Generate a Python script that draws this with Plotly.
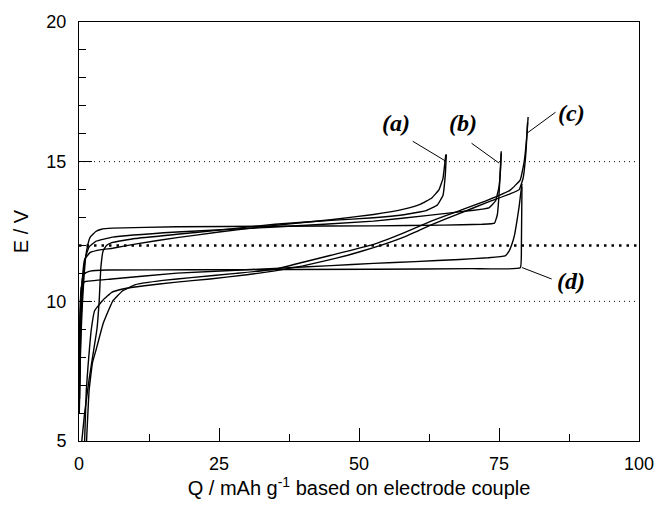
import plotly.graph_objects as go

# ---- data (Q / mAh g-1, E / V) ----
a1_q = [0.1, 0.3, 0.6, 1.0, 2.0, 4.0, 6.0, 10, 17.5, 25, 35, 45, 52.6, 58, 61, 63, 64.3, 65.0, 65.3, 65.5]
a1_e = [6.5, 9.2, 10.8, 11.5, 11.75, 11.85, 11.9, 12.05, 12.28, 12.48, 12.72, 12.92, 13.11, 13.3, 13.48, 13.7, 14.0, 14.4, 14.9, 15.25]

a2_q = [0.5, 1.0, 1.8, 2.5, 3.2, 3.6, 3.9, 4.3, 4.9, 5.85, 10, 17.5, 25, 35, 45, 52.6, 58, 62, 64, 65.0, 65.4, 65.6]
a2_e = [5.0, 6.0, 7.2, 8.1, 9.0, 10.0, 11.2, 11.8, 12.0, 12.1, 12.25, 12.4, 12.55, 12.76, 12.9, 12.99, 13.1, 13.25, 13.45, 13.8, 14.5, 15.26]

b1_q = [0.05, 0.3, 0.6, 0.9, 1.2, 1.6, 2.0, 3.0, 4.0, 6, 17.5, 35, 52.6, 65, 72, 74.2, 74.7, 75.0, 75.2, 75.4]
b1_e = [6.0, 8.5, 9.9, 10.9, 11.6, 12.05, 12.3, 12.5, 12.58, 12.62, 12.67, 12.69, 12.70, 12.73, 12.76, 12.8, 13.1, 13.8, 14.6, 15.37]

b2_q = [0.1, 0.4, 0.8, 1.2, 1.8, 3, 6, 17.5, 35, 52.6, 62, 70, 73.2, 74.4, 75.0, 75.3, 75.4]
b2_e = [7.0, 9.5, 11.0, 11.6, 11.95, 12.15, 12.3, 12.48, 12.66, 12.87, 13.07, 13.25, 13.35, 13.6, 14.1, 14.8, 15.3]

c1_q = [1.35, 1.8, 2.4, 3.1, 4.3, 6.0, 7.8, 10.1, 15, 20, 28, 35, 40, 45, 52.6, 58, 63, 68, 73, 77, 78.8, 79.5, 80.0, 80.2]
c1_e = [5.0, 6.8, 7.8, 8.3, 9.2, 10.0, 10.38, 10.6, 10.75, 10.85, 11.0, 11.15, 11.4, 11.65, 12.04, 12.45, 12.88, 13.25, 13.62, 13.98, 14.35, 15.0, 16.0, 16.6]

c2_q = [1.0, 1.3, 1.6, 2.2, 2.8, 4.3, 5.85, 8, 11.7, 17, 23.4, 30, 35, 40, 43.9, 48, 52.6, 58, 63, 68, 73, 77, 78.6, 79.3, 79.8, 80.1]
c2_e = [5.0, 6.8, 7.65, 9.0, 9.67, 10.05, 10.32, 10.45, 10.56, 10.68, 10.80, 10.95, 11.09, 11.27, 11.45, 11.65, 11.92, 12.3, 12.75, 13.15, 13.55, 13.85, 14.0, 14.4, 15.3, 16.4]

d1_q = [0.0, 0.3, 0.6, 1.0, 2.0, 5.0, 20, 52.6, 70, 78.8, 79.0, 79.1]
d1_e = [7.0, 10.0, 10.8, 11.0, 11.08, 11.12, 11.13, 11.15, 11.17, 11.2, 12.0, 14.1]

d2_q = [0.0, 0.15, 0.4, 1.0, 5.85, 17.5, 35, 45, 52.6, 60, 68, 73, 76.1, 76.8, 77.3, 77.8, 78.2, 78.6, 78.9, 79.1]
d2_e = [7.5, 9.5, 10.5, 10.7, 10.80, 11.01, 11.18, 11.28, 11.36, 11.42, 11.5, 11.56, 11.63, 11.8, 12.04, 12.4, 12.87, 13.4, 13.9, 14.2]

curves = [(a1_q, a1_e), (a2_q, a2_e), (b1_q, b1_e), (b2_q, b2_e),
          (c1_q, c1_e), (c2_q, c2_e), (d1_q, d1_e), (d2_q, d2_e)]

ref_levels = [15, 12, 10]
ref_x = [0, 100]

labels = ["(a)", "(b)", "(c)", "(d)"]
label_q = [56.6, 68.6, 87.9, 87.9]
label_e = [16.37, 16.37, 16.73, 10.74]
leader_q0 = [59.6, 70.1, 85.1, 84.4]
leader_e0 = [15.73, 15.66, 16.77, 10.80]
leader_q1 = [65.4, 75.0, 80.0, 79.1]
leader_e1 = [15.03, 14.95, 16.02, 11.21]

x_ticks = [0, 25, 50, 75, 100]
y_ticks = [5, 10, 15, 20]

fig = go.Figure()

for lvl in ref_levels:
    bold = (lvl == 12)
    fig.add_trace(go.Scatter(
        x=ref_x, y=[lvl, lvl], mode="lines", hoverinfo="skip",
        line=dict(color="black", width=2.5 if bold else 1,
                  dash="2.5px,5px" if bold else "1px,4px"),
        showlegend=False))

for q, e in curves:
    fig.add_trace(go.Scatter(x=q, y=e, mode="lines",
                             line=dict(color="black", width=1.4, shape="spline", smoothing=0.3),
                             showlegend=False))

for i in range(len(labels)):
    fig.add_trace(go.Scatter(x=[leader_q0[i], leader_q1[i]], y=[leader_e0[i], leader_e1[i]],
                             mode="lines", line=dict(color="black", width=1), showlegend=False))
    fig.add_annotation(x=label_q[i], y=label_e[i], text="<b><i>%s</i></b>" % labels[i],
                       showarrow=False,
                       font=dict(family="Liberation Serif, Times New Roman, serif", size=24, color="black"))

axis_common = dict(showgrid=False, zeroline=False, showline=True, linecolor="black", linewidth=1,
                   mirror=True, ticks="inside", ticklen=13, tickcolor="black", tickwidth=1,
                   tickfont=dict(family="Liberation Sans, Arial, sans-serif", size=18, color="black"))

fig.update_xaxes(range=[0, 100], tickvals=x_ticks, ticklabelstandoff=6,
                 minor=dict(tick0=0, dtick=12.5, ticks="inside", ticklen=7, tickcolor="black"),
                 title=dict(text="Q / mAh g<sup>-1</sup> based on electrode couple",
                            font=dict(family="Liberation Sans, Arial, sans-serif", size=20, color="black"),
                            standoff=4),
                 **axis_common)
fig.update_yaxes(range=[5, 20], tickvals=y_ticks, ticklabelstandoff=8,
                 minor=dict(tick0=5, dtick=1, ticks="inside", ticklen=7, tickcolor="black"),
                 title=dict(text="E / V",
                            font=dict(family="Liberation Sans, Arial, sans-serif", size=20, color="black"),
                            standoff=12),
                 **axis_common)

fig.update_layout(width=666, height=505, margin=dict(l=79, r=17, t=20, b=64),
                  paper_bgcolor="white", plot_bgcolor="white", showlegend=False)

fig.write_html("out.html")
